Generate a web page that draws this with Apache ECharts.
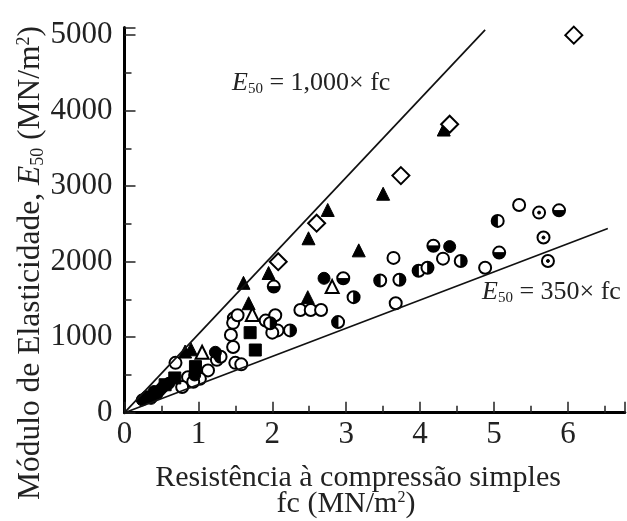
<!DOCTYPE html>
<html><head><meta charset="utf-8">
<script src="https://cdn.jsdelivr.net/npm/echarts@6/dist/echarts.min.js"></script>
<style>html,body{margin:0;padding:0;background:#fff}#c{width:627px;height:521px}</style>
</head><body><div id="c"></div>
<script>
const xTicks = [0,1,2,3,4,5,6];
const yTicks = [0,1000,2000,3000,4000,5000];
const lineUpper = [[0,0],[4.88,5070]];
const lineLower = [[0,0],[6.54,2440]];
const openCircle = [[6.78,2680],[5.34,2750],[4.88,1920],[4.31,2040],[3.64,2050],[3.67,1450],
 [2.38,1360],[2.52,1360],[2.66,1360],[1.48,1250],[1.44,1030],[1.91,1220],[2.04,1290],[2.07,1090],
 [1.47,1190],[1.53,1290],[1.50,660],[1.47,870],[0.69,660],[1.25,700],[1.13,560],[1.02,450],
 [0.86,470],[0.78,340],[0.93,410],[1.58,640],[2.0,1060]];
const filledCircle = [[0.24,170],[0.30,210],[0.36,190],[0.44,250],[0.52,340],[0.60,390],[0.40,280],
 [0.48,300],[1.23,800],[2.70,1780],[4.40,2200],[0.95,500]];
const filledSquare = [[0.68,460],[0.96,610],[1.70,1060],[1.77,830],[0.55,370]];
const filledTriangle = [[4.32,3750],[3.50,2900],[2.75,2685],[2.49,2310],[3.17,2150],[1.95,1850],
 [1.61,1720],[1.68,1450],[2.48,1530],[0.82,810],[0.90,840]];
const openTriangle = [[2.81,1670],[1.73,1300],[1.05,800]];
const openDiamond = [[6.08,5000],[4.40,3820],[3.74,3140],[2.60,2510],[2.08,2000]];
const halfBottom = [[2.96,1780],[5.07,2120],[5.88,2680],[4.18,2210],[2.02,1670]];
const halfLeft = [[3.46,1750],[5.05,2540],[2.89,1200],[3.98,1880],[1.30,740]];
const halfRight = [[3.72,1760],[4.55,2010],[3.10,1530],[2.24,1090],[1.97,1185],[4.10,1920]];
const dotCircle = [[5.61,2650],[5.67,2320],[5.73,2010]];

const FONT = 'Liberation Serif';
const INK = '#000';
const chart = echarts.init(document.getElementById('c'));
const openSt = {color:'#fff', borderColor:INK, borderWidth:2, opacity:1};
const fillSt = {color:INK, borderColor:INK, borderWidth:1, opacity:1};
function sc(data, symbol, size, style, extra){
  return Object.assign({type:'scatter', data:data, symbol:symbol, symbolSize:size, itemStyle:style, silent:true, animation:false}, extra||{});
}
const allHalf = halfBottom.concat(halfLeft, halfRight, dotCircle);
const series = [
  {type:'line', data:lineUpper, symbol:'none', lineStyle:{color:'#111', width:1.7}, animation:false, silent:true},
  {type:'line', data:lineLower, symbol:'none', lineStyle:{color:'#111', width:1.7}, animation:false, silent:true},
  sc(openCircle,'circle',12,openSt),
  sc(allHalf,'circle',12,openSt),
  sc(halfBottom,'path://M0,0A10,10,0,0,0,20,0Z',[11,5.5],fillSt,{symbolOffset:[0,2.75]}),
  sc(halfLeft,'path://M10,0A10,10,0,0,0,10,20Z',[5.5,11],fillSt,{symbolOffset:[-2.75,0]}),
  sc(halfRight,'path://M0,0A10,10,0,0,1,0,20Z',[5.5,11],fillSt,{symbolOffset:[2.75,0]}),
  sc(dotCircle,'circle',3,fillSt),
  sc(filledCircle,'circle',12,fillSt),
  sc(filledSquare,'rect',12,fillSt),
  sc(filledTriangle,'triangle',13,fillSt),
  sc(openTriangle,'triangle',13,openSt),
  sc(openDiamond,'diamond',[17,17],openSt)
];
function axisCommon(margin){
  return {
    axisLine:{show:true, onZero:false, lineStyle:{color:INK, width:3}},
    axisTick:{show:true, inside:true, length:11, lineStyle:{color:'#222', width:1.5}},
    minorTick:{show:true, splitNumber:2, length:7, lineStyle:{color:'#222', width:1.5}},
    splitLine:{show:false},
    minorSplitLine:{show:false},
    axisLabel:{fontFamily:FONT, fontSize:31, color:'#222', margin:margin, showMaxLabel:false,
      formatter:function(v){return String(v);}}
  };
}
const richE = {
  i:{fontFamily:FONT,fontStyle:'italic',fontSize:26,fill:'#222'},
  s:{fontFamily:FONT,fontSize:15,fill:'#222',padding:[12,0,0,0]},
  n:{fontFamily:FONT,fontSize:26,fill:'#222'}
};
chart.setOption({
  animation:false,
  grid:{left:124.5, right:2.2, top:27.6, bottom:108.3, containLabel:false},
  xAxis:Object.assign({type:'value', min:0, max:6.77, interval:1}, axisCommon(7)),
  yAxis:Object.assign({type:'value', min:0, max:5100, interval:1000}, axisCommon(12)),
  series:series,
  graphic:[
    {type:'text', left:232, top:70, style:{rich:richE, text:'{i|E}{s|50}{n| = 1,000× fc}'}},
    {type:'text', left:482, top:279, style:{rich:richE, text:'{i|E}{s|50}{n| = 350× fc}'}},
    {type:'text', x:358, y:478, style:{text:'Resistência à compressão simples', fontFamily:FONT, fontSize:30, fill:'#222', textAlign:'center', textVerticalAlign:'middle'}},
    {type:'text', x:346, y:504, style:{rich:{n:{fontFamily:FONT,fontSize:30,fill:'#222'},p:{fontFamily:FONT,fontSize:16,fill:'#222',padding:[0,0,12,0]}}, text:'{n|fc (MN/m}{p|2}{n|)}', textAlign:'center', textVerticalAlign:'middle'}},
    {type:'text', x:31, y:263, rotation:Math.PI/2, style:{rich:{n:{fontFamily:FONT,fontSize:31.5,fill:'#222'},i:{fontFamily:FONT,fontStyle:'italic',fontSize:31.5,fill:'#222'},s:{fontFamily:FONT,fontSize:18,fill:'#222',padding:[14,0,0,0]},p:{fontFamily:FONT,fontSize:18,fill:'#222',padding:[0,0,14,0]}}, text:'{n|Módulo de Elasticidade, }{i|E}{s|50}{n| (MN/m}{p|2}{n|)}', textAlign:'center', textVerticalAlign:'middle'}}
  ]
});
</script>
</body></html>
